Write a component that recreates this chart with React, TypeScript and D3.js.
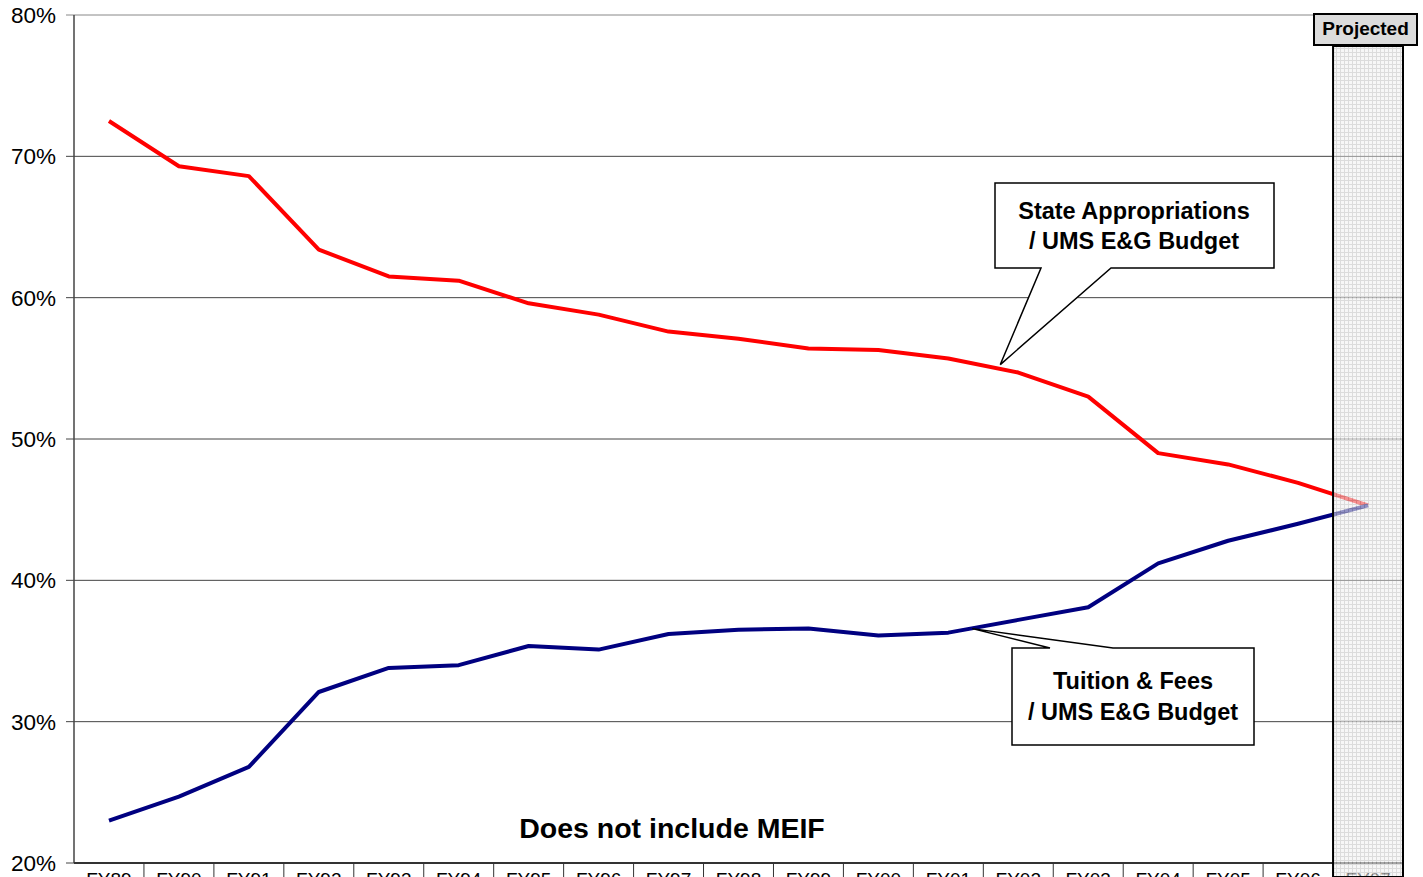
import React from 'react'
import * as d3 from 'd3'

const years = ['FY89', 'FY90', 'FY91', 'FY92', 'FY93', 'FY94', 'FY95', 'FY96', 'FY97', 'FY98',
    'FY99', 'FY00', 'FY01', 'FY02', 'FY03', 'FY04', 'FY05', 'FY06', 'FY07']
const stateApprop = [72.5, 69.3, 68.6, 63.4, 61.5, 61.2, 59.6, 58.8, 57.6, 57.1,
    56.4, 56.3, 55.7, 54.7, 53.0, 49.0, 48.2, 46.9, 45.3]
const tuitionFees = [23.0, 24.7, 26.8, 32.1, 33.8, 34.0, 35.35, 35.1, 36.2, 36.5,
    36.6, 36.1, 36.3, 37.2, 38.1, 41.2, 42.8, 44.0, 45.3]
const yTicks = [20, 30, 40, 50, 60, 70, 80]
const projectedYear = 'FY07'

export default function App() {
    const width = 1423
    const height = 877
    const left = 74, right = 1403, top = 15, bottom = 863

    const x = d3.scaleBand<string>().domain(years).range([left, right])
    const y = d3.scaleLinear().domain([20, 80]).range([bottom, top])
    const cx = (d: string) => (x(d) as number) + x.bandwidth() / 2

    const line = d3.line<number>()
        .x((_, i) => cx(years[i]))
        .y(d => y(d))

    const px = x(projectedYear) as number
    const font = 'Arial, "Liberation Sans", sans-serif'

    // callout anchor points come from the data
    const redTip = { x: cx('FY02') - 18, y: y(stateApprop[13]) - 8 }
    const blueTip = { x: cx('FY01') + 24, y: y(tuitionFees[12]) - 4 }

    return (
        <svg width={width} height={height} style={{ position: 'absolute', left: 0, top: 0, background: '#fff' }}>
            <defs>
                <pattern id="grid" width="4" height="4" patternUnits="userSpaceOnUse">
                    <rect width="4" height="4" fill="#f2f2f2" />
                    <path d="M0,0.5H4M0.5,0V4" stroke="#c4c4c4" strokeWidth="1" />
                </pattern>
            </defs>

            {/* gridlines */}
            {yTicks.map(t => (
                <g key={t}>
                    <line x1={left - 8} x2={right} y1={y(t)} y2={y(t)} stroke={t === 80 ? '#888' : '#444'} strokeWidth={1} />
                    <text x={56} y={y(t) + 8} textAnchor="end" fontFamily={font} fontSize={22.5} fill="#000">{t}%</text>
                </g>
            ))}
            <line x1={left} x2={left} y1={top} y2={bottom} stroke="#444" strokeWidth={1.5} />

            {/* x axis */}
            <line x1={left} x2={right} y1={bottom} y2={bottom} stroke="#333" strokeWidth={2} />
            {years.map((yr, i) => (
                <g key={yr}>
                    {i > 0 && <line x1={x(yr)} x2={x(yr)} y1={bottom} y2={height} stroke="#333" strokeWidth={1} />}
                    <text x={cx(yr)} y={bottom + 23} textAnchor="middle" fontFamily={font} fontSize={19} fill="#000">{yr}</text>
                </g>
            ))}

            {/* series */}
            <path d={line(stateApprop) || ''} fill="none" stroke="#ff0000" strokeWidth={4} strokeLinejoin="round" />
            <path d={line(tuitionFees) || ''} fill="none" stroke="#000080" strokeWidth={4} strokeLinejoin="round" />

            {/* projected band */}
            <rect x={px} y={46} width={x.bandwidth()} height={height - 46} fill="url(#grid)" fillOpacity={0.6} stroke="#000" strokeWidth={2} />
            <rect x={1314} y={14} width={103} height={31} fill="#dcdcdc" stroke="#000" strokeWidth={2} />
            <text x={1365.5} y={35} textAnchor="middle" fontFamily={font} fontSize={19} fontWeight="bold">Projected</text>

            {/* callout state appropriations */}
            <path d={`M995,183H1274V268H1111L${redTip.x},${redTip.y}L1041,268H995Z`} fill="#fff" stroke="#000" strokeWidth={1.5} />
            <text x={1134} y={219} textAnchor="middle" fontFamily={font} fontSize={23.5} fontWeight="bold">State Appropriations</text>
            <text x={1134} y={249} textAnchor="middle" fontFamily={font} fontSize={23.5} fontWeight="bold">/ UMS E&amp;G Budget</text>

            {/* callout tuition & fees */}
            <path d={`M1012,648H1050L${blueTip.x},${blueTip.y}L1113,648H1254V745H1012Z`} fill="#fff" stroke="#000" strokeWidth={1.5} />
            <text x={1133} y={689} textAnchor="middle" fontFamily={font} fontSize={23.5} fontWeight="bold">Tuition &amp; Fees</text>
            <text x={1133} y={720} textAnchor="middle" fontFamily={font} fontSize={23.5} fontWeight="bold">/ UMS E&amp;G Budget</text>

            <text x={672} y={838} textAnchor="middle" fontFamily={font} fontSize={28.5} fontWeight="bold">Does not include MEIF</text>
        </svg>
    )
}
